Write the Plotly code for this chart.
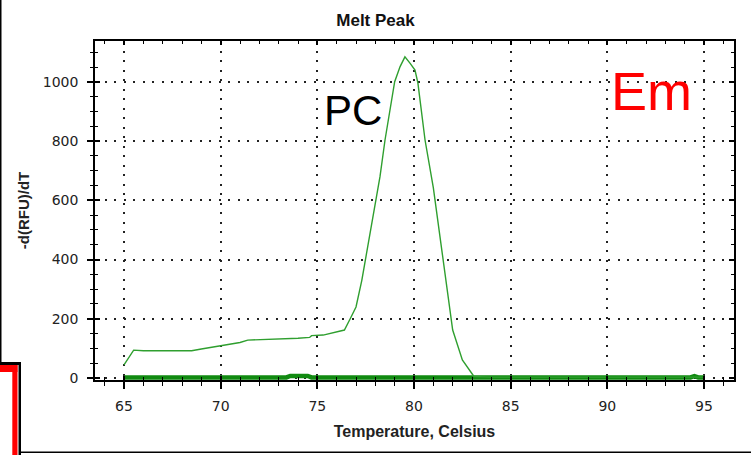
import plotly.graph_objects as go

# ---- data ----
pc_temp = [65.0, 65.5, 66, 67, 68, 68.5, 69, 70, 71, 71.4, 72, 73, 74, 74.6, 74.7, 75.3,
           75.9, 76.4, 76.7, 77.0, 77.3, 77.6, 78.0, 78.24, 78.5, 79.0, 79.28, 79.53,
           79.8, 80.05, 80.2, 80.57, 81.0, 81.5, 82.0, 82.5, 83.0, 83.1, 84, 90, 95]
pc_value = [44, 94, 92, 91, 91, 92, 98, 108, 120, 128, 129, 132, 134, 137, 143, 145,
            153, 162, 200, 240, 330, 440, 590, 680, 804, 1001, 1052, 1085,
            1063, 1040, 997, 804, 642, 400, 162, 61, 17, 5, 3, 3, 3]

base_temp = [65, 73.4, 73.6, 74.5, 74.7, 94.3, 94.5, 94.7, 95]
base_value = [2, 2, 7, 7, 2, 2, 6, 2, 2]

x_ticks = [65, 70, 75, 80, 85, 90, 95]
y_ticks = [0, 200, 400, 600, 800, 1000]

W, H = 751, 455
L, R, T, B = 95, 734, 41, 380


def px(x):
    return (x - L) / (R - L)


def py(y):
    return (B - y) / (B - T)


fig = go.Figure()
fig.add_trace(go.Scatter(x=base_temp, y=base_value, mode="lines",
                         line=dict(color="#118a11", width=4.5), showlegend=False))
fig.add_trace(go.Scatter(x=pc_temp, y=pc_value, mode="lines",
                         line=dict(color="#2f9f2f", width=1.4), showlegend=False))
# helper trace for the overlay axes (inside ticks)
fig.add_trace(go.Scatter(x=[70], y=[500], xaxis="x2", yaxis="y2", mode="markers",
                         marker=dict(opacity=0), showlegend=False, hoverinfo="skip"))

xr = [63.5, 96.55]
yr = [-6.8, 1138.5]
tickfont = dict(family="DejaVu Sans", size=14, color="#222")

fig.update_layout(
    width=W, height=H,
    margin=dict(l=L, r=W - R, t=T, b=H - B),
    paper_bgcolor="white", plot_bgcolor="white",
    title=dict(text="<b>Melt Peak</b>", x=0.5, xref="container", xanchor="center",
               y=1 - 20 / H, yref="container", yanchor="middle",
               font=dict(family="Liberation Sans", size=17, color="#111")),
    xaxis=dict(range=xr, tickvals=x_ticks, ticks="outside", ticklen=7, tickwidth=1.5,
               tickcolor="black", showline=True, linecolor="black", linewidth=1.5,
               zeroline=False, showgrid=True, gridcolor="#222", gridwidth=1.5,
               griddash="2px,7.5px", tickfont=tickfont, ticklabelstandoff=5,
               minor=dict(dtick=1, tick0=0, ticks="outside", ticklen=4, tickwidth=1.2,
                          tickcolor="black", showgrid=False),
               title=dict(text="<b>Temperature, Celsius</b>", standoff=13,
                          font=dict(family="Liberation Sans", size=16, color="#222"))),
    yaxis=dict(range=yr, tickvals=y_ticks, ticks="outside", ticklen=6, tickwidth=1.5,
               tickcolor="black", showline=True, linecolor="black", linewidth=1.5,
               zeroline=False, showgrid=True, gridcolor="#222", gridwidth=1.5,
               griddash="2px,7.5px", tickfont=tickfont, ticklabelstandoff=6,
               minor=dict(dtick=50, tick0=0, ticks="outside", ticklen=3, tickwidth=1.2,
                          tickcolor="black", showgrid=False),
               title=dict(text="<b>-d(RFU)/dT</b>", standoff=10,
                          font=dict(family="Liberation Sans", size=15, color="#222"))),
    xaxis2=dict(range=xr, overlaying="x", anchor="y", side="bottom", ticks="inside",
                ticklen=4, tickwidth=1.5, tickcolor="black", tickvals=x_ticks,
                showticklabels=False, showline=True, linecolor="black", linewidth=1.8,
                mirror="allticks", showgrid=False, zeroline=False,
                minor=dict(dtick=1, tick0=0, ticks="inside", ticklen=3, tickwidth=1.2,
                           tickcolor="black", showgrid=False)),
    yaxis2=dict(range=yr, overlaying="y", anchor="x", side="left", ticks="inside",
                ticklen=5, tickwidth=1.5, tickcolor="black", tickvals=y_ticks,
                showticklabels=False, showline=True, linecolor="black", linewidth=1.8,
                mirror="allticks", showgrid=False, zeroline=False,
                minor=dict(dtick=50, tick0=0, ticks="inside", ticklen=3, tickwidth=1.2,
                           tickcolor="black", showgrid=False)),
)

fig.add_annotation(text="PC", x=px(353), y=py(110), xref="paper", yref="paper",
                   xanchor="center", yanchor="middle", showarrow=False,
                   font=dict(family="Liberation Sans", size=42, color="black"))
fig.add_annotation(text="Em", x=px(651), y=py(91), xref="paper", yref="paper",
                   xanchor="center", yanchor="middle", showarrow=False,
                   font=dict(family="Liberation Sans", size=54, color="#ff0000"))

# frame fragments of the screenshot
frame = [
    (0, 0, 1.5, 364, "black"),
    (0, 362, 21, 365, "black"),
    (18.5, 362, 21, 455, "black"),
    (0, 365, 17.5, 372, "#ff0000"),
    (12.3, 365, 17.5, 455, "#ff0000"),
    (20, 451.5, 751, 453, "black"),
]
for x0, y0, x1, y1, c in frame:
    fig.add_shape(type="rect", xref="paper", yref="paper",
                  x0=px(x0), x1=px(x1), y0=py(y1), y1=py(y0),
                  fillcolor=c, line=dict(width=0), layer="above")

fig.write_html("out.html", config={"displayModeBar": False},
               post_script="document.body.style.margin='0';document.body.style.padding='0';")
